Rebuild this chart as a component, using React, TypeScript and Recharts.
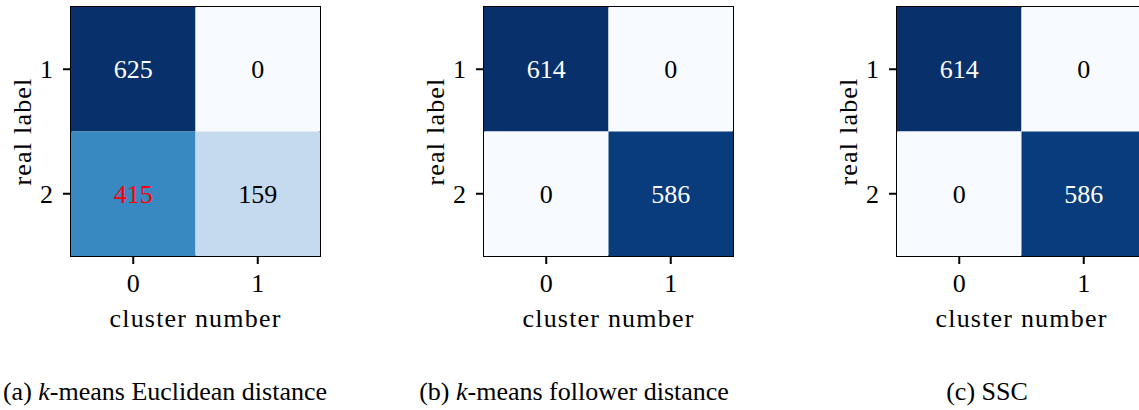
import { ScatterChart, Scatter, XAxis, YAxis, ReferenceArea } from "recharts";

// confusion matrix axes
const clusters = [0, 1];
const realLabels = [1, 2];

// rows = real label 1, 2 ; cols = cluster 0, 1
const euclideanCounts = [
  [625, 0],
  [415, 159],
];
const followerCounts = [
  [614, 0],
  [0, 586],
];
const sscCounts = [
  [614, 0],
  [0, 586],
];

// cells whose number is printed in red
const euclideanHighlight = [[1, 0]];

const PLOT = 249;
const CELL = PLOT / 2;
const YAXIS_W = 71;
const TOP = 7;
const XAXIS_H = 80;
const CHART_W = 340;
const CHART_H = TOP + PLOT + XAXIS_H;
const FONT = '"Liberation Serif", "DejaVu Serif", serif';

// matplotlib "Blues" anchors
const BLUES = [
  [247, 251, 255],
  [222, 235, 247],
  [198, 219, 239],
  [158, 202, 225],
  [107, 174, 214],
  [66, 146, 198],
  [33, 113, 181],
  [8, 81, 156],
  [8, 48, 107],
];

function blues(t: number): string {
  const v = Math.max(0, Math.min(1, t)) * (BLUES.length - 1);
  const i = Math.min(Math.floor(v), BLUES.length - 2);
  const f = v - i;
  const c = BLUES[i].map((a, k) => Math.round(a + (BLUES[i + 1][k] - a) * f));
  return `rgb(${c[0]},${c[1]},${c[2]})`;
}

interface Cell {
  x: number;
  y: number;
  count: number;
  fill: string;
  textColor: string;
}

function toCells(counts: number[][], highlight: number[][] = []): Cell[] {
  const flat = counts.flat();
  const max = Math.max(...flat);
  const min = Math.min(...flat);
  const cells: Cell[] = [];
  counts.forEach((row, r) =>
    row.forEach((count, c) => {
      const t = (count - min) / (max - min || 1);
      const red = highlight.some(([hr, hc]) => hr === r && hc === c);
      cells.push({
        x: clusters[c],
        y: realLabels[r],
        count,
        fill: blues(t),
        textColor: red ? "#ff0000" : count > (max + min) / 2 ? "#ffffff" : "#000000",
      });
    })
  );
  return cells;
}

function CellShape(props: any) {
  const { cx, cy, payload } = props;
  return (
    <g>
      <rect x={cx - CELL / 2} y={cy - CELL / 2} width={CELL} height={CELL} fill={payload.fill} />
      <text
        x={cx}
        y={cy}
        dy="0.34em"
        textAnchor="middle"
        fill={payload.textColor}
        fontFamily={FONT}
        fontSize={26}
      >
        {payload.count}
      </text>
    </g>
  );
}

function Matrix({ counts, highlight, left }: { counts: number[][]; highlight?: number[][]; left: number }) {
  const data = toCells(counts, highlight);
  const tickStyle = { fontFamily: FONT, fontSize: 26, fill: "#000" };
  const titleStyle = { fontFamily: FONT, fontSize: 26, fill: "#000", letterSpacing: 1.2 };
  return (
    <div style={{ position: "absolute", left, top: 0, fontFamily: FONT }}>
      <ScatterChart width={CHART_W} height={CHART_H} margin={{ top: TOP, right: CHART_W - YAXIS_W - PLOT, bottom: 0, left: 0 }}>
        <XAxis
          type="number"
          dataKey="x"
          domain={[-0.5, 1.5]}
          ticks={clusters}
          allowDataOverflow
          height={XAXIS_H}
          tick={tickStyle}
          tickSize={8}
          tickMargin={10}
          axisLine={false}
          tickLine={{ stroke: "#000", strokeWidth: 2 }}
          label={{ value: "cluster number", position: "insideBottom", offset: 9, style: titleStyle }}
        />
        <YAxis
          type="number"
          dataKey="y"
          domain={[0.5, 2.5]}
          ticks={realLabels}
          reversed
          allowDataOverflow
          width={YAXIS_W}
          tick={tickStyle}
          tickSize={8}
          tickMargin={10}
          axisLine={false}
          tickLine={{ stroke: "#000", strokeWidth: 2 }}
          label={{
            value: "real label",
            angle: -90,
            position: "insideLeft",
            offset: 22,
            style: { ...titleStyle, textAnchor: "middle" },
          }}
        />
        <Scatter data={data} shape={CellShape} isAnimationActive={false} />
        <ReferenceArea
          x1={-0.5}
          x2={1.5}
          y1={0.5}
          y2={2.5}
          fill="none"
          fillOpacity={0}
          stroke="#000"
          strokeWidth={2}
          ifOverflow="visible"
        />
      </ScatterChart>
    </div>
  );
}

const captions = [
  { x: 165, pre: "(a) ", math: "k", post: "-means Euclidean distance" },
  { x: 574, pre: "(b) ", math: "k", post: "-means follower distance" },
  { x: 987, pre: "(c) SSC", math: "", post: "" },
];

export default function App() {
  return (
    <div
      style={{
        position: "absolute",
        left: 0,
        top: 0,
        width: 1139,
        height: 410,
        overflow: "hidden",
        background: "#fff",
      }}
    >
      <Matrix counts={euclideanCounts} highlight={euclideanHighlight} left={0} />
      <Matrix counts={followerCounts} left={413} />
      <Matrix counts={sscCounts} left={826} />
      <svg width={1139} height={410} style={{ position: "absolute", left: 0, top: 0, pointerEvents: "none" }}>
        {captions.map((c) => (
          <text key={c.x} x={c.x} y={400} textAnchor="middle" fontFamily={FONT} fontSize={26} fill="#000">
            {c.pre}
            {c.math && <tspan fontStyle="italic">{c.math}</tspan>}
            {c.post}
          </text>
        ))}
      </svg>
    </div>
  );
}
